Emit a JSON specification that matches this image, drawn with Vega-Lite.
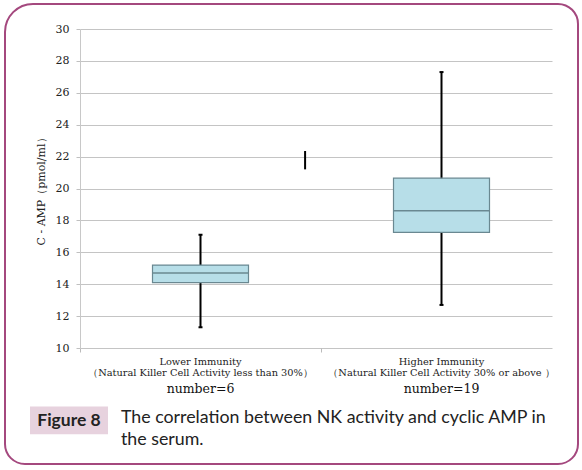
{
  "$schema": "https://vega.github.io/schema/vega-lite/v6.json",
  "autosize": {"type": "none"},
  "width": 472,
  "height": 319,
  "padding": {"left": 80, "top": 29, "right": 30, "bottom": 122},
  "background": "white",
  "config": {
    "view": {"stroke": null},
    "font": "DejaVu Serif",
    "axisY": {
      "values": [10, 12, 14, 16, 18, 20, 22, 24, 26, 28, 30],
      "tickCount": 11,
      "labelOverlap": false
    }
  },
  "data": {"values": [{}]},
  "datasets": {
    "boxes": [
      {"group": "Lower", "min": 11.3, "q1": 14.1, "median": 14.7, "q3": 15.2, "max": 17.1, "label": "number=6"},
      {"group": "Higher", "min": 12.7, "q1": 17.25, "median": 18.6, "q3": 20.65, "max": 27.3, "label": "number=19"}
    ],
    "stray": [
      {"group": "Lower", "lo": 21.2, "hi": 22.35}
    ]
  },
  "resolve": {"scale": {"x": "independent"}, "axis": {"x": "independent"}},
  "layer": [
    {
      "mark": {"type": "rect", "fill": "transparent", "stroke": "#a4487e", "strokeWidth": 2, "clip": false,
               "cornerRadiusTopLeft": 28, "cornerRadiusTopRight": 20, "cornerRadiusBottomLeft": 20, "cornerRadiusBottomRight": 20},
      "encoding": {
        "x": {"datum": -75, "type": "quantitative", "scale": {"domain": [0, 472], "nice": false, "zero": false}, "axis": null},
        "x2": {"datum": 498},
        "y": {
          "datum": 31.57, "type": "quantitative",
          "scale": {"domain": [10, 30], "nice": false, "zero": false},
          "axis": {
            "title": "C - AMP（pmol/ml）",
            "titleFont": "DejaVu Serif",
            "titleFontSize": 11,
            "titleFontWeight": "normal",
            "titleColor": "#222222",
            "titlePadding": 9,
            "values": [10, 12, 14, 16, 18, 20, 22, 24, 26, 28, 30],
            "tickCount": 11,
            "labelOverlap": false,
            "grid": true,
            "labelFont": "DejaVu Serif",
            "labelFontSize": 11,
            "labelColor": "#222222",
            "labelPadding": 7,
            "tickSize": 4,
            "tickColor": "#c0c0c0",
            "domainColor": "#c8c8c8",
            "gridColor": "#c4c4c4",
            "gridWidth": 1
          }
        },
        "y2": {"datum": 2.73}
      }
    },
    {
      "mark": {"type": "rect", "fill": "#e7d2de", "clip": false},
      "encoding": {
        "x": {"datum": -50, "type": "quantitative", "scale": {"domain": [0, 472], "nice": false, "zero": false}, "axis": null},
        "x2": {"datum": 28},
        "y": {"datum": 6.33, "type": "quantitative"},
        "y2": {"datum": 4.6}
      }
    },
    {
      "mark": {"type": "text", "text": "Figure 8", "font": "Lato", "fontSize": 17.5, "fontWeight": "bold", "color": "#222222", "align": "center", "baseline": "middle", "clip": false},
      "encoding": {
        "x": {"datum": -11, "type": "quantitative", "scale": {"domain": [0, 472], "nice": false, "zero": false}, "axis": null},
        "y": {"datum": 5.45, "type": "quantitative"}
      }
    },
    {
      "mark": {"type": "text", "text": ["The correlation between NK activity and cyclic AMP in", "the serum."], "lineHeight": 22, "font": "Lato", "fontSize": 17.8, "color": "#222222", "align": "left", "baseline": "alphabetic", "clip": false},
      "encoding": {
        "x": {"datum": 41, "type": "quantitative", "scale": {"domain": [0, 472], "nice": false, "zero": false}, "axis": null},
        "y": {"datum": 5.3, "type": "quantitative"}
      }
    },
    {
      "data": {"name": "boxes"},
      "mark": {"type": "rule", "color": "#000000", "strokeWidth": 2},
      "encoding": {
        "x": {
          "field": "group", "type": "nominal",
          "scale": {"domain": ["Lower", "Higher"], "range": [0, 482], "paddingInner": 0, "paddingOuter": 0},
          "axis": {
            "orient": "bottom",
            "title": null,
            "domain": false,
            "grid": false,
            "bandPosition": 0,
            "ticks": true,
            "tickSize": 4,
            "tickColor": "#bbbbbb",
            "labelAngle": 0,
            "labelFont": "DejaVu Serif",
            "labelFontSize": 9.8,
            "labelColor": "#222222",
            "labelLineHeight": 11.5,
            "labelPadding": 4,
            "labelLimit": 400,
            "labelExpr": "datum.value == 'Lower' ? ['Lower Immunity', '（Natural Killer Cell Activity less than 30%）'] : ['Higher Immunity', '（Natural Killer Cell Activity 30% or above ）']"
          }
        },
        "y": {
          "field": "min", "type": "quantitative",
          "axis": {
            "values": [10, 12, 14, 16, 18, 20, 22, 24, 26, 28, 30],
            "tickCount": 11,
            "labelOverlap": false
          }
        },
        "y2": {"field": "max"}
      }
    },
    {
      "data": {"name": "boxes"},
      "mark": {"type": "tick", "color": "#000000", "thickness": 2, "size": 4, "opacity": 1},
      "encoding": {
        "x": {"field": "group", "type": "nominal", "scale": {"domain": ["Lower", "Higher"], "range": [0, 482], "paddingInner": 0, "paddingOuter": 0}, "axis": null},
        "y": {"field": "min", "type": "quantitative"}
      }
    },
    {
      "data": {"name": "boxes"},
      "mark": {"type": "tick", "color": "#000000", "thickness": 2, "size": 4, "opacity": 1},
      "encoding": {
        "x": {"field": "group", "type": "nominal", "scale": {"domain": ["Lower", "Higher"], "range": [0, 482], "paddingInner": 0, "paddingOuter": 0}, "axis": null},
        "y": {"field": "max", "type": "quantitative"}
      }
    },
    {
      "data": {"name": "boxes"},
      "mark": {"type": "bar", "fill": "#b7dee8", "stroke": "#6a8891", "strokeWidth": 1.2, "width": 96},
      "encoding": {
        "x": {"field": "group", "type": "nominal", "scale": {"domain": ["Lower", "Higher"], "range": [0, 482], "paddingInner": 0, "paddingOuter": 0}, "axis": null},
        "y": {"field": "q1", "type": "quantitative"},
        "y2": {"field": "q3"}
      }
    },
    {
      "data": {"name": "boxes"},
      "mark": {"type": "tick", "color": "#6a8891", "thickness": 1.5, "size": 96, "opacity": 1},
      "encoding": {
        "x": {"field": "group", "type": "nominal", "scale": {"domain": ["Lower", "Higher"], "range": [0, 482], "paddingInner": 0, "paddingOuter": 0}, "axis": null},
        "y": {"field": "median", "type": "quantitative"}
      }
    },
    {
      "data": {"name": "boxes"},
      "mark": {"type": "text", "font": "DejaVu Serif", "fontSize": 12.5, "color": "#111111", "baseline": "middle", "align": "center", "clip": false},
      "encoding": {
        "x": {"field": "group", "type": "nominal", "scale": {"domain": ["Lower", "Higher"], "range": [0, 482], "paddingInner": 0, "paddingOuter": 0}, "axis": null},
        "y": {"datum": 7.45, "type": "quantitative"},
        "text": {"field": "label", "type": "nominal"}
      }
    },
    {
      "data": {"name": "stray"},
      "mark": {"type": "rule", "color": "#000000", "strokeWidth": 2},
      "encoding": {
        "x": {"field": "group", "type": "nominal", "bandPosition": 0.934, "scale": {"domain": ["Lower", "Higher"], "range": [0, 482], "paddingInner": 0, "paddingOuter": 0}, "axis": null},
        "y": {"field": "lo", "type": "quantitative"},
        "y2": {"field": "hi"}
      }
    }
  ]
}
